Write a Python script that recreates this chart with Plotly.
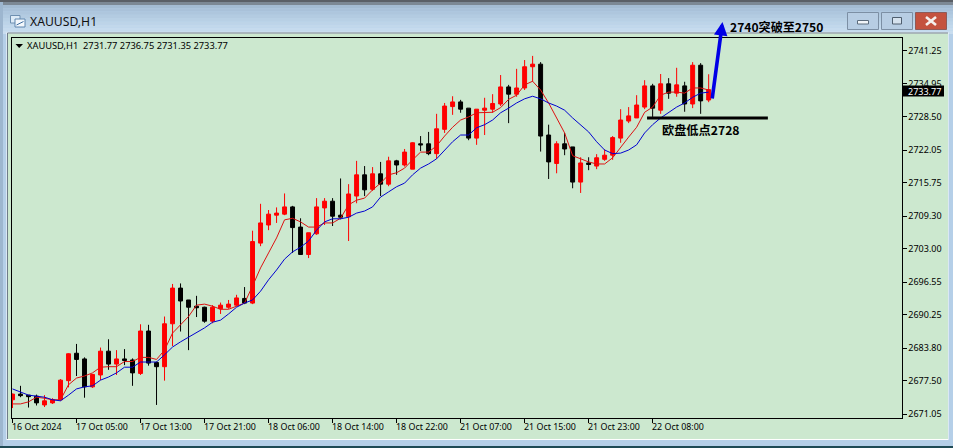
import plotly.graph_objects as go

tick_labels = ["16 Oct 2024", "17 Oct 05:00", "17 Oct 13:00", "17 Oct 21:00", "18 Oct 06:00", "18 Oct 14:00",
               "18 Oct 22:00", "21 Oct 07:00", "21 Oct 15:00", "21 Oct 23:00", "22 Oct 08:00"]
price_ticks = ["2741.25", "2734.95", "2728.50", "2722.05", "2715.75", "2709.30", "2703.00", "2696.55",
               "2690.25", "2683.80", "2677.50", "2671.05"]

opens = [2673.8,2674.9,2674.7,2674.5,2672.8,2673.2,2673.8,2677.5,2682.8,2681.7,2676.3,2678.6,2683.2,2680.7,2681.7,2681.5,
         2678.9,2687.1,2681.0,2680.2,2688.5,2695.4,2693.1,2691.9,2691.7,2689.0,2691.4,2691.7,2692.1,2693.4,2692.5,2704.1,
         2707.6,2709.5,2709.7,2711.1,2707.2,2701.9,2705.9,2710.9,2712.2,2709.5,2709.2,2713.2,2717.3,2714.5,2717.5,2715.5,
         2720.0,2719.2,2718.4,2723.3,2723.3,2721.4,2726.1,2730.5,2731.4,2730.2,2724.4,2729.8,2730.0,2731.0,2734.3,2732.9,
         2734.1,2738.2,2738.7,2725.0,2719.5,2723.3,2722.7,2715.9,2719.6,2719.0,2720.3,2721.1,2724.4,2727.7,2728.3,2730.4,
         2734.5,2729.8,2734.9,2733.1,2734.5,2731.0,2738.5,2731.77]
highs = [2675.0,2676.5,2674.7,2674.8,2674.7,2674.1,2677.8,2682.8,2684.6,2682.0,2678.8,2683.9,2685.5,2683.4,2683.6,2681.8,
         2688.4,2688.3,2681.2,2689.9,2696.2,2696.3,2693.1,2693.9,2691.8,2692.1,2692.6,2693.1,2694.1,2695.6,2706.5,2711.7,
         2710.5,2711.0,2713.7,2711.3,2708.9,2706.1,2712.8,2712.8,2712.8,2716.6,2715.5,2720.0,2719.0,2718.8,2719.8,2720.8,
         2720.2,2722.3,2723.6,2724.8,2725.6,2729.1,2731.2,2732.5,2731.8,2730.2,2730.0,2732.2,2732.9,2736.6,2734.7,2737.8,
         2739.5,2740.3,2739.1,2727.0,2723.8,2725.4,2722.7,2720.7,2720.7,2721.3,2722.2,2724.8,2730.0,2730.4,2732.7,2735.6,
         2734.9,2736.8,2736.0,2738.0,2735.3,2739.1,2738.9,2736.75]
lows = [2672.2,2674.3,2672.3,2672.7,2672.4,2673.0,2673.6,2676.2,2678.4,2674.2,2676.1,2677.6,2679.6,2678.6,2680.5,2676.5,
        2678.6,2680.4,2672.8,2677.5,2684.2,2687.0,2683.4,2689.8,2688.7,2688.6,2690.4,2691.4,2691.9,2692.3,2692.3,2703.5,
        2706.6,2708.0,2709.5,2702.2,2701.8,2701.2,2705.7,2707.6,2707.4,2708.7,2704.5,2711.8,2713.2,2714.2,2713.2,2715.1,
        2717.3,2718.9,2718.4,2721.9,2721.1,2720.4,2725.4,2728.9,2729.3,2724.0,2723.1,2725.0,2729.3,2730.6,2727.3,2732.4,
        2733.7,2735.3,2721.8,2716.5,2717.6,2721.1,2714.7,2713.8,2718.2,2718.4,2720.0,2720.2,2723.5,2727.3,2728.3,2730.0,
        2728.5,2729.1,2732.0,2732.4,2729.5,2730.2,2729.1,2731.35]
closes = [2674.9,2674.6,2674.4,2673.2,2673.6,2673.8,2677.6,2682.7,2681.6,2676.3,2678.7,2683.2,2680.7,2681.7,2681.4,2679.0,
          2687.1,2680.9,2680.2,2688.5,2695.4,2692.9,2691.7,2691.6,2689.0,2691.7,2692.1,2692.3,2693.5,2692.5,2704.4,2708.0,
          2709.7,2709.9,2711.1,2707.1,2701.9,2706.1,2711.1,2712.2,2709.3,2709.1,2713.6,2717.3,2714.4,2717.5,2715.5,2720.0,
          2719.2,2721.7,2723.5,2723.1,2721.4,2726.2,2730.6,2731.4,2730.0,2724.4,2730.0,2730.2,2731.1,2734.3,2732.9,2734.1,
          2738.2,2738.7,2724.8,2719.8,2723.3,2722.3,2715.9,2719.6,2719.3,2720.6,2721.1,2724.5,2727.9,2728.7,2730.8,2734.5,
          2730.2,2734.9,2733.1,2734.7,2731.0,2738.5,2731.6,2733.77]
fast_ma = [2673.0,2673.0,2673.4,2674.3,2674.1,2673.8,2673.8,2676.7,2678.0,2678.4,2679.0,2680.1,2680.2,2680.2,2681.2,2681.2,
           2682.0,2682.0,2681.6,2683.4,2686.7,2688.3,2689.9,2692.1,2692.3,2691.9,2691.3,2691.3,2691.9,2692.5,2695.8,2699.3,
           2702.2,2705.1,2708.6,2708.9,2708.2,2707.2,2707.2,2708.0,2708.0,2708.9,2711.5,2712.4,2712.8,2714.4,2715.7,2717.3,
           2717.7,2718.6,2720.2,2721.7,2721.7,2722.9,2724.8,2726.5,2727.9,2728.5,2729.3,2729.3,2729.4,2730.3,2731.9,2732.7,
           2734.7,2735.4,2733.7,2731.2,2728.3,2725.4,2721.0,2720.4,2719.8,2719.4,2719.4,2720.6,2722.7,2724.6,2726.5,2729.4,
           2730.4,2732.7,2733.3,2733.3,2733.1,2734.1,2734.1,2733.7]
slow_ma = [2675.9,2675.3,2674.7,2674.5,2674.3,2673.8,2673.6,2674.7,2675.9,2676.3,2676.5,2677.6,2678.2,2679.0,2680.1,2680.1,
           2681.1,2681.1,2681.1,2682.5,2684.0,2685.0,2685.9,2686.9,2687.7,2688.8,2689.2,2690.4,2691.7,2692.5,2693.1,2694.8,
           2697.0,2698.9,2701.0,2702.4,2703.3,2704.5,2706.6,2708.2,2708.8,2708.8,2709.1,2709.9,2710.3,2711.1,2713.0,2714.0,
           2715.0,2715.7,2717.3,2718.6,2719.4,2720.4,2722.1,2723.7,2725.0,2725.0,2726.4,2727.0,2727.9,2729.3,2730.2,2731.2,
           2732.0,2732.5,2732.0,2731.2,2730.6,2729.8,2728.3,2727.0,2725.6,2723.7,2722.1,2721.4,2721.5,2722.1,2723.1,2725.4,
           2727.0,2728.3,2729.3,2730.4,2731.2,2732.3,2733.1,2733.3]
last_price = 2733.77
support_level = 2728.3

W, H = 953, 448
FONT = "Noto Sans"
CJK = "Noto Sans CJK SC"
GREEN = "#CCE8CF"
bars = list(range(len(opens)))


def px(x):
    return x / W


def py(y):
    return 1 - y / H


def rect(x0, y0, x1, y1, fill, line=None, lw=1, layer="below"):
    return dict(type="rect", xref="paper", yref="paper", x0=px(x0), x1=px(x1), y0=py(y0), y1=py(y1),
                fillcolor=fill, line=dict(color=line or fill, width=lw if line else 0), layer=layer)


def seg(x0, y0, x1, y1, color, lw, layer="above"):
    return dict(type="line", xref="paper", yref="paper", x0=px(x0), x1=px(x1), y0=py(y0), y1=py(y1),
                line=dict(color=color, width=lw), layer=layer)


fig = go.Figure()
fig.add_trace(go.Candlestick(
    x=bars, open=opens, high=highs, low=lows, close=closes,
    increasing=dict(line=dict(color="#FF0000", width=1), fillcolor="#FF0000"),
    decreasing=dict(line=dict(color="#000000", width=1), fillcolor="#000000"),
    whiskerwidth=0, showlegend=False))
fig.add_trace(go.Scatter(x=bars, y=fast_ma, mode="lines", line=dict(color="#DD1111", width=1), showlegend=False))
fig.add_trace(go.Scatter(x=bars, y=slow_ma, mode="lines", line=dict(color="#0000D0", width=1), showlegend=False))

shapes = []
shapes.append(rect(0, 0, W, H, "#B5CFE8"))
top_band = ["#5A5F66", "#7C8894", "#A3BBD2", "#A9C1D9", "#AEC6DD", "#B3CBE1", "#B8D0E5", "#BDD4E8", "#C2D8EB", "#C6DBEE", "#C9DDEF"]
for k, c in enumerate(top_band):
    y0 = 0 if k == 0 else 2 + (k - 1) * 3.2
    shapes.append(rect(0, y0, W, 2 + k * 3.2, c))
shapes.append(rect(0, 2, 3, 446, "#9DB6CF"))
shapes.append(rect(0, 446, W, H, "#1F4A55"))
shapes.append(rect(6.5, 32.5, 948.5, 440, "#FFFFFF"))
shapes.append(rect(7.5, 33.5, 948, 439, GREEN))
shapes.append(seg(7.5, 33, 7.5, 439, "#6F7C88", 1, "below"))
shapes.append(seg(7.5, 33, 948, 33, "#6F7C88", 1, "below"))
shapes.append(rect(10.5, 15.5, 20, 23, "#DDEBF7", "#6E8FB0"))
shapes.append(rect(15, 19, 25, 27, "#F4F8FC", "#5E86AE"))
shapes.append(seg(16.5, 25, 23.5, 21.5, "#3F6EA0", 1))
shapes.append(rect(847.5, 12.5, 878.5, 29.5, "#B7CDE3", "#7C8FA4"))
shapes.append(rect(881.5, 12.5, 912.5, 29.5, "#B7CDE3", "#7C8FA4"))
shapes.append(rect(915.5, 12.5, 946.5, 29.5, "#C4523F", "#8E5A58"))
shapes.append(rect(857.5, 20.5, 868.5, 24, "#F2F5F8", "#5D6C7C", layer="above"))
shapes.append(rect(892.5, 17.5, 901.5, 24, "#D5E2EE", "#4F5E6E", layer="above"))
shapes.append(seg(926, 17, 936, 25, "#F5F0EE", 2.6))
shapes.append(seg(926, 25, 936, 17, "#F5F0EE", 2.6))
shapes.append(dict(type="path", xref="paper", yref="paper",
                   path=f"M {px(15.5)} {py(44)} L {px(23)} {py(44)} L {px(19.2)} {py(48)} Z",
                   fillcolor="#000000", line=dict(width=0), layer="above"))
shapes.append(dict(type="line", xref="x", yref="y", x0=79.3, x1=94.4, y0=support_level, y1=support_level,
                   line=dict(color="#000000", width=3), layer="above"))
shapes.append(rect(903, 85.5, 944, 96.5, "#000000", layer="above"))

ann = []
small = dict(family=FONT, size=8.9, color="#000000")
ann.append(dict(text="XAUUSD,H1", xref="paper", yref="paper", x=px(28), y=py(21), xanchor="left", yanchor="middle",
                showarrow=False, font=dict(family=FONT, size=12.2, color="#111111")))
ann.append(dict(text="XAUUSD,H1  2731.77 2736.75 2731.35 2733.77", xref="paper", yref="paper", x=px(25), y=py(45),
                xanchor="left", yanchor="middle", showarrow=False, font=dict(family=FONT, size=9.3, color="#000000")))
for k, lab in enumerate(tick_labels):
    ann.append(dict(text=lab, xref="x", yref="paper", x=8 * k, y=py(426), xshift=-3, xanchor="left", yanchor="middle",
                    showarrow=False, font=small))
ann.append(dict(text=f"{last_price:.2f}", xref="paper", yref="paper", x=px(905.5), y=py(91), xanchor="left",
                yanchor="middle", showarrow=False, font=dict(family=FONT, size=9, color="#FFFFFF")))
ann.append(dict(text="<b>欧盘低点2728</b>", xref="paper", yref="paper", x=px(660), y=py(130), xanchor="left",
                yanchor="middle", showarrow=False, font=dict(family=CJK, size=12.2, color="#000000")))
ann.append(dict(text="<b>2740突破至2750</b>", xref="paper", yref="paper", x=px(728), y=py(27), xanchor="left",
                yanchor="middle", showarrow=False, font=dict(family=CJK, size=12.1, color="#000000")))
ann.append(dict(text="", xref="paper", yref="paper", x=px(722.5), y=py(22), axref="pixel", ayref="pixel",
                ax=-10.5, ay=78, showarrow=True, arrowhead=2, arrowsize=0.75, arrowwidth=3.6, arrowcolor="#0000E6"))

y_top = 2751.11 - 0.19338 * 37.5
y_bot = 2751.11 - 0.19338 * 417.5

fig.update_layout(
    width=W, height=H, autosize=False, margin=dict(l=0, r=0, t=0, b=0, pad=0, autoexpand=False),
    paper_bgcolor="#B5CFE8", plot_bgcolor=GREEN, showlegend=False, hovermode=False,
    boxgap=0.3, shapes=shapes, annotations=ann,
    font=dict(family=FONT, size=9, color="#000000"),
    xaxis=dict(domain=[px(11.7), px(901.5)], range=[-0.1, 111.1], rangeslider=dict(visible=False), type="linear",
               tickmode="array", tickvals=[8 * k for k in range(len(tick_labels))], ticktext=[""] * len(tick_labels),
               ticks="outside", ticklen=4, tickcolor="#000000", showgrid=False, zeroline=False,
               showline=True, mirror=True, linecolor="#000000", linewidth=1),
    yaxis=dict(domain=[py(417.5), py(37.5)], range=[y_bot, y_top], side="right", type="linear",
               tickmode="array", tickvals=[float(t) for t in price_ticks], ticktext=price_ticks,
               ticks="outside", ticklen=4, tickcolor="#000000", showgrid=False, zeroline=False,
               showline=True, mirror=True, linecolor="#000000", linewidth=1,
               tickfont=dict(family=FONT, size=9, color="#000000")),
)
fig.write_html("out.html", config=dict(displayModeBar=False),
               post_script="document.body.style.margin='0';document.body.style.overflow='hidden';")
